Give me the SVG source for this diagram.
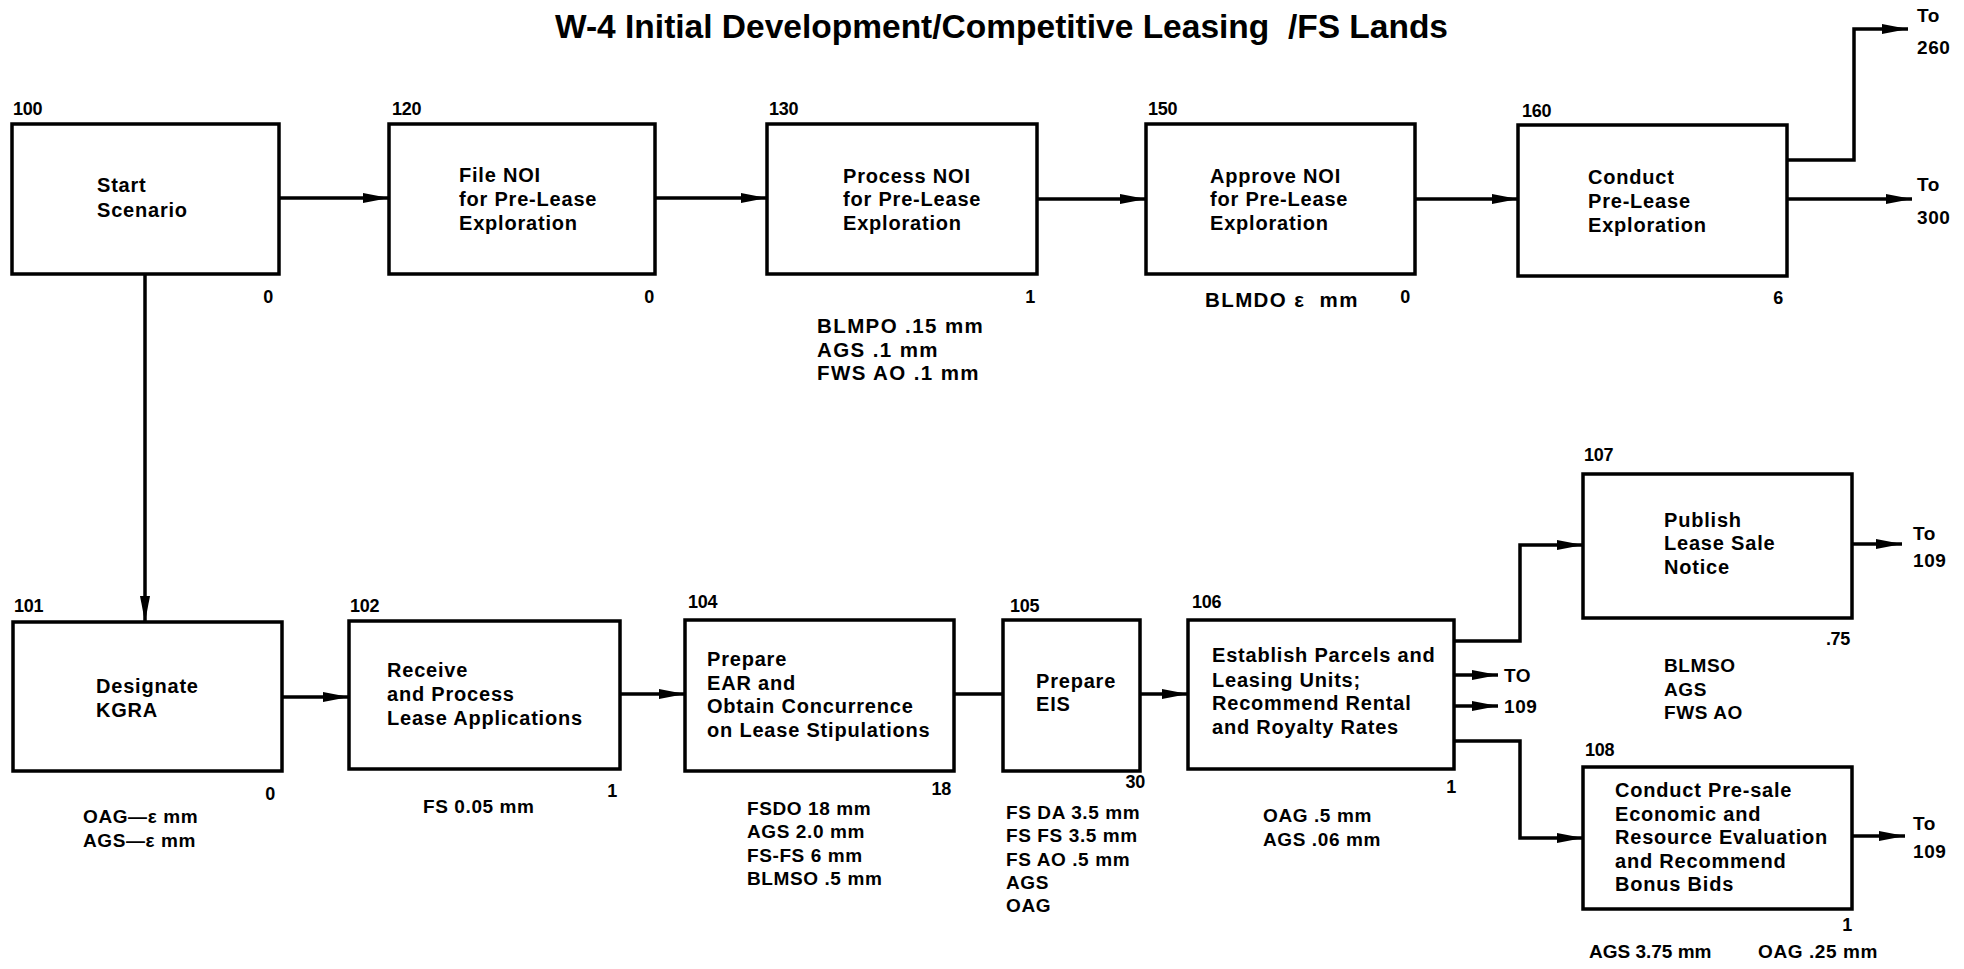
<svg xmlns="http://www.w3.org/2000/svg" width="1964" height="969" viewBox="0 0 1964 969">
<defs>
<marker id="arr" markerUnits="userSpaceOnUse" markerWidth="26" markerHeight="10" refX="26" refY="5" orient="auto">
<path d="M0,0 L26,5 L0,10 Z" fill="#000"/>
</marker>
<style>
.box{fill:#fff;stroke:#000;stroke-width:3.5}
.con{fill:none;stroke:#000;stroke-width:3.5}
.t{font-family:"Liberation Sans",Arial,sans-serif;font-weight:bold;font-size:20px;letter-spacing:0.8px;fill:#000}
.n{font-family:"Liberation Sans",Arial,sans-serif;font-weight:bold;font-size:18px;letter-spacing:-0.3px;fill:#000}
.r{font-family:"Liberation Sans",Arial,sans-serif;font-weight:bold;font-size:19px;letter-spacing:0.6px;fill:#000}
.rt{font-family:"Liberation Sans",Arial,sans-serif;font-weight:bold;font-size:20.5px;letter-spacing:1.4px;fill:#000}
.e{text-anchor:end}
.title{font-family:"Liberation Sans",Arial,sans-serif;font-weight:bold;font-size:33px;fill:#000}
</style>
</defs>
<rect width="1964" height="969" fill="#fff"/>
<text class="title" x="555" y="38" textLength="893" lengthAdjust="spacingAndGlyphs" xml:space="preserve">W-4 Initial Development/Competitive Leasing  /FS Lands</text>

<g id="connectors">
<line class="con" x1="279" y1="198" x2="389" y2="198" marker-end="url(#arr)"/>
<line class="con" x1="655" y1="198" x2="767" y2="198" marker-end="url(#arr)"/>
<line class="con" x1="1037" y1="199" x2="1146" y2="199" marker-end="url(#arr)"/>
<line class="con" x1="1415" y1="199" x2="1518" y2="199" marker-end="url(#arr)"/>
<polyline class="con" points="1787,160 1854,160 1854,29 1908,29" marker-end="url(#arr)"/>
<line class="con" x1="1787" y1="199" x2="1912" y2="199" marker-end="url(#arr)"/>
<line class="con" x1="145" y1="274" x2="145" y2="622" marker-end="url(#arr)"/>
<line class="con" x1="282" y1="697" x2="349" y2="697" marker-end="url(#arr)"/>
<line class="con" x1="620" y1="694" x2="685" y2="694" marker-end="url(#arr)"/>
<line class="con" x1="954" y1="694" x2="1003" y2="694"/>
<line class="con" x1="1140" y1="694" x2="1188" y2="694" marker-end="url(#arr)"/>
<polyline class="con" points="1454,641 1520,641 1520,545 1583,545" marker-end="url(#arr)"/>
<line class="con" x1="1454" y1="675" x2="1498" y2="675" marker-end="url(#arr)"/>
<line class="con" x1="1454" y1="706" x2="1498" y2="706" marker-end="url(#arr)"/>
<polyline class="con" points="1454,741 1520,741 1520,838 1583,838" marker-end="url(#arr)"/>
<line class="con" x1="1852" y1="544" x2="1902" y2="544" marker-end="url(#arr)"/>
<line class="con" x1="1852" y1="836" x2="1905" y2="836" marker-end="url(#arr)"/>
</g>

<g id="n100">
<rect class="box" x="12" y="124" width="267" height="150"/>
<text class="n" x="13" y="115">100</text>
<text class="t" x="97" y="192">Start</text>
<text class="t" x="97" y="217">Scenario</text>
<text class="n e" x="273" y="303">0</text>
</g>
<g id="n120">
<rect class="box" x="389" y="124" width="266" height="150"/>
<text class="n" x="392" y="115">120</text>
<text class="t" x="459" y="182">File NOI</text>
<text class="t" x="459" y="206">for Pre-Lease</text>
<text class="t" x="459" y="230">Exploration</text>
<text class="n e" x="654" y="303">0</text>
</g>
<g id="n130">
<rect class="box" x="767" y="124" width="270" height="150"/>
<text class="n" x="769" y="115">130</text>
<text class="t" x="843" y="183">Process NOI</text>
<text class="t" x="843" y="206">for Pre-Lease</text>
<text class="t" x="843" y="230">Exploration</text>
<text class="n e" x="1035" y="303">1</text>
<text class="rt" x="817" y="333">BLMPO .15 mm</text>
<text class="rt" x="817" y="357">AGS .1 mm</text>
<text class="rt" x="817" y="380">FWS AO .1 mm</text>
</g>
<g id="n150">
<rect class="box" x="1146" y="124" width="269" height="150"/>
<text class="n" x="1148" y="115">150</text>
<text class="t" x="1210" y="183">Approve NOI</text>
<text class="t" x="1210" y="206">for Pre-Lease</text>
<text class="t" x="1210" y="230">Exploration</text>
<text class="rt" x="1205" y="307" xml:space="preserve">BLMDO ε  mm</text>
<text class="n e" x="1410" y="303">0</text>
</g>
<g id="n160">
<rect class="box" x="1518" y="125" width="269" height="151"/>
<text class="n" x="1522" y="117">160</text>
<text class="t" x="1588" y="184">Conduct</text>
<text class="t" x="1588" y="208">Pre-Lease</text>
<text class="t" x="1588" y="232">Exploration</text>
<text class="n e" x="1783" y="304">6</text>
</g>
<g id="to260">
<text class="r" x="1917" y="22">To</text>
<text class="r" x="1917" y="54">260</text>
</g>
<g id="to300">
<text class="r" x="1917" y="191">To</text>
<text class="r" x="1917" y="224">300</text>
</g>

<g id="n101">
<rect class="box" x="13" y="622" width="269" height="149"/>
<text class="n" x="14" y="612">101</text>
<text class="t" x="96" y="693">Designate</text>
<text class="t" x="96" y="717">KGRA</text>
<text class="n e" x="275" y="800">0</text>
<text class="r" x="83" y="823">OAG—ε mm</text>
<text class="r" x="83" y="847">AGS—ε mm</text>
</g>
<g id="n102">
<rect class="box" x="349" y="621" width="271" height="148"/>
<text class="n" x="350" y="612">102</text>
<text class="t" x="387" y="677">Receive</text>
<text class="t" x="387" y="701">and Process</text>
<text class="t" x="387" y="725">Lease Applications</text>
<text class="n e" x="617" y="797">1</text>
<text class="r" x="423" y="813">FS 0.05 mm</text>
</g>
<g id="n104">
<rect class="box" x="685" y="620" width="269" height="151"/>
<text class="n" x="688" y="608">104</text>
<text class="t" x="707" y="666">Prepare</text>
<text class="t" x="707" y="690">EAR and</text>
<text class="t" x="707" y="713">Obtain Concurrence</text>
<text class="t" x="707" y="737">on Lease Stipulations</text>
<text class="n e" x="951" y="795">18</text>
<text class="r" x="747" y="815">FSDO 18 mm</text>
<text class="r" x="747" y="838">AGS 2.0 mm</text>
<text class="r" x="747" y="862">FS-FS 6 mm</text>
<text class="r" x="747" y="885">BLMSO .5 mm</text>
</g>
<g id="n105">
<rect class="box" x="1003" y="620" width="137" height="151"/>
<text class="n" x="1010" y="612">105</text>
<text class="t" x="1036" y="688">Prepare</text>
<text class="t" x="1036" y="711">EIS</text>
<text class="n e" x="1145" y="788">30</text>
<text class="r" x="1006" y="819">FS DA 3.5 mm</text>
<text class="r" x="1006" y="842">FS FS 3.5 mm</text>
<text class="r" x="1006" y="866">FS AO .5 mm</text>
<text class="r" x="1006" y="889">AGS</text>
<text class="r" x="1006" y="912">OAG</text>
</g>
<g id="n106">
<rect class="box" x="1188" y="620" width="266" height="149"/>
<text class="n" x="1192" y="608">106</text>
<text class="t" x="1212" y="662">Establish Parcels and</text>
<text class="t" x="1212" y="687">Leasing Units;</text>
<text class="t" x="1212" y="710">Recommend Rental</text>
<text class="t" x="1212" y="734">and Royalty Rates</text>
<text class="n e" x="1456" y="793">1</text>
<text class="r" x="1263" y="822">OAG .5 mm</text>
<text class="r" x="1263" y="846">AGS .06 mm</text>
</g>
<g id="to109a">
<text class="r" x="1504" y="682">TO</text>
<text class="r" x="1504" y="713">109</text>
</g>
<g id="n107">
<rect class="box" x="1583" y="474" width="269" height="144"/>
<text class="n" x="1584" y="461">107</text>
<text class="t" x="1664" y="527">Publish</text>
<text class="t" x="1664" y="550">Lease Sale</text>
<text class="t" x="1664" y="574">Notice</text>
<text class="n e" x="1850" y="645">.75</text>
<text class="r" x="1664" y="672">BLMSO</text>
<text class="r" x="1664" y="696">AGS</text>
<text class="r" x="1664" y="719">FWS AO</text>
</g>
<g id="to109b">
<text class="r" x="1913" y="540">To</text>
<text class="r" x="1913" y="567">109</text>
</g>
<g id="n108">
<rect class="box" x="1583" y="767" width="269" height="142"/>
<text class="n" x="1585" y="756">108</text>
<text class="t" x="1615" y="797">Conduct Pre-sale</text>
<text class="t" x="1615" y="821">Economic and</text>
<text class="t" x="1615" y="844">Resource Evaluation</text>
<text class="t" x="1615" y="868">and Recommend</text>
<text class="t" x="1615" y="891">Bonus Bids</text>
<text class="n e" x="1852" y="931">1</text>
<text class="r" x="1589" y="958" style="letter-spacing:0">AGS 3.75 mm</text>
<text class="r" x="1758" y="958">OAG .25 mm</text>
</g>
<g id="to109c">
<text class="r" x="1913" y="830">To</text>
<text class="r" x="1913" y="858">109</text>
</g>
</svg>
